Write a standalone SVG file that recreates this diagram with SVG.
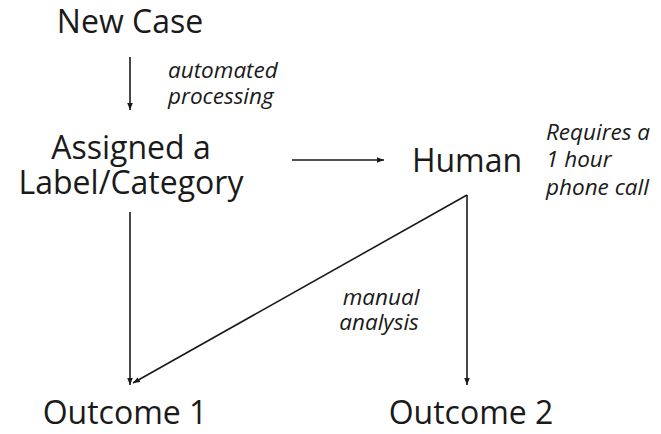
<svg xmlns="http://www.w3.org/2000/svg" width="661" height="434" viewBox="0 0 661 434">
<style>
.n{font-family:"Open Sans","Noto Sans",sans-serif;font-size:32px;fill:#1a1a1a;text-anchor:middle}
.l{font-family:"Open Sans","Noto Sans",sans-serif;font-size:22.5px;font-style:italic;fill:#1a1a1a}
.c{stroke:#1a1a1a;stroke-width:1.6;fill:none;marker-end:url(#ah)}
</style>
<defs>
<marker id="ah" viewBox="0 0 10 10" refX="10" refY="5" markerWidth="7" markerHeight="7" markerUnits="userSpaceOnUse" orient="auto">
<path d="M0,1 L10,5 L0,9 Z" fill="#1a1a1a"/>
</marker>
</defs>
<rect width="661" height="434" fill="#fff"/>
<g id="new-case"><text class="n" x="130" y="33">New Case</text></g>
<g id="assigned"><text class="n" x="131" y="159">Assigned a</text><text class="n" x="131" y="194">Label/Category</text></g>
<g id="human"><text class="n" x="467" y="172">Human</text></g>
<g id="outcome1"><text class="n" x="125" y="424">Outcome 1</text></g>
<g id="outcome2"><text class="n" x="471" y="424">Outcome 2</text></g>
<g id="connectors">
<line class="c" x1="130" y1="57" x2="130" y2="110"/>
<line class="c" x1="292" y1="160" x2="384" y2="160"/>
<line class="c" x1="130" y1="212" x2="130" y2="385"/>
<line class="c" x1="467" y1="195" x2="467" y2="385"/>
<line class="c" x1="467" y1="195" x2="133" y2="383"/>
</g>
<g id="labels">
<text class="l" x="168" y="78">automated</text>
<text class="l" x="168" y="104">processing</text>
<text class="l" x="546" y="140">Requires a</text>
<text class="l" x="546" y="167">1 hour</text>
<text class="l" x="546" y="195">phone call</text>
<text class="l" x="381" y="305" text-anchor="middle">manual</text>
<text class="l" x="379" y="330" text-anchor="middle">analysis</text>
</g>
</svg>
